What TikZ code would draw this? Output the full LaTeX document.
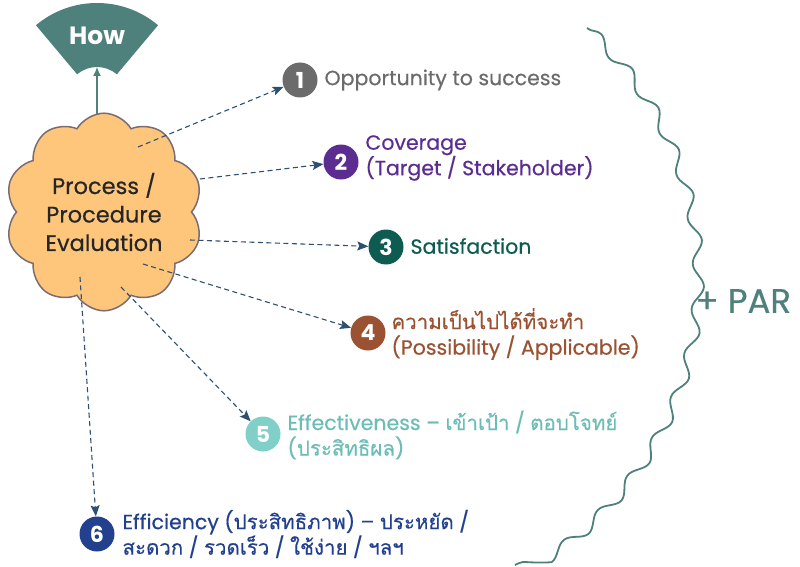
\documentclass[tikz,border=0pt]{standalone}
\usepackage{fontspec}
\setmainfont{Poppins}
\newfontfamily\medfont{Poppins}[FakeBold=0.5]
\newfontfamily\thai[Script=Thai,Scale=1.0,FakeBold=0.4]{Loma}
\usetikzlibrary{shapes.symbols,decorations.pathmorphing,arrows.meta}
\definecolor{tealc}{HTML}{4E807C}
\definecolor{arrc}{HTML}{2D4F70}
\definecolor{cloudfill}{HTML}{FDC67B}
\definecolor{cloudline}{HTML}{7B6B72}
\definecolor{cone}{HTML}{6B6B6B}
\definecolor{ctwo}{HTML}{5C2D91}
\definecolor{cthree}{HTML}{0E5B52}
\definecolor{cfour}{HTML}{9B5232}
\definecolor{cfive}{HTML}{80CFC9}
\definecolor{tfive}{HTML}{6DBDB7}
\definecolor{csix}{HTML}{23408E}
\tikzset{
  numc/.style={circle, minimum size=35pt, inner sep=0pt, fill=#1,
    font=\bfseries\fontsize{22}{22}\selectfont, text=white},
  lbl/.style={anchor=west, align=left, text=#1, font=\medfont\fontsize{20.5}{25.5}\selectfont},
  darr/.style={draw=arrc, dash pattern=on 5pt off 3.5pt, line width=1.1pt,
    -{Stealth[length=11pt,width=9pt,inset=2pt]}}
}
\begin{document}
\begin{tikzpicture}[x=1pt,y=-1pt]
\useasboundingbox (0,0) rectangle (800,567);
% How fan
\fill[tealc] (97,98) ++(-130:95) arc[start angle=-130,end angle=-50,radius=95]
  -- ([shift={(-50:31)}]97,98) arc[start angle=-50,end angle=-130,radius=31] -- cycle;
\node[text=white, font=\bfseries\fontsize{25}{25}\selectfont] (how) at (97,36) {How};
\coordinate (howbot) at (97,67);
\coordinate (howbase) at (97,130);
\draw[tealc, line width=1.3pt, -{Latex[length=9pt,width=8pt]}] (howbase) -- (howbot);
% cloud
\node[cloud, cloud puffs=10, cloud puff arc=120, draw=cloudline, fill=cloudfill, line width=1.5pt,
  minimum width=194pt, minimum height=138pt, align=center, text=black!85,
  font=\medfont\fontsize{22.5}{28.5}\selectfont] (cloud) at (104,212) {Process /\\Procedure\\Evaluation};
% circles
\node[numc=cone] (c1) at (300,80) {1};
\node[numc=ctwo] (c2) at (341,162) {2};
\node[numc=cthree] (c3) at (386,247) {3};
\node[numc=cfour] (c4) at (368,333) {4};
\node[numc=cfive] (c5) at (263,434) {5};
\node[numc=csix] (c6) at (97,534) {6};
% labels
\node[lbl=cone] (t1) at (321,80) {Opportunity to success};
\node[lbl=ctwo] (t2) at (362,158) {Coverage\\(Target / Stakeholder)};
\node[lbl=cthree] (t3) at (407,246) {Satisfaction};
\node[lbl=cfour] (t4) at (388,334) {{\thai ความเป็นไปได้ที่จะทำ}\\(Possibility / Applicable)};
\node[lbl=tfive] (t5) at (284,435) {Effectiveness – {\thai เข้าเป้า} / {\thai ตอบโจทย์}\\({\thai ประสิทธิผล})};
\node[lbl=csix] (t6) at (119,534) {Efficiency ({\thai ประสิทธิภาพ}) – {\thai ประหยัด} /\\{\thai สะดวก} / {\thai รวดเร็ว} / {\thai ใช้ง่าย} / {\thai ฯลฯ}};
% dashed arrows
\coordinate (s1) at (138,147);
\coordinate (s2) at (200,179);
\coordinate (s3) at (190,240);
\coordinate (s4) at (143,264);
\coordinate (s5) at (121,287);
\coordinate (s6) at (80,277);
\draw[darr] (s1) -- (c1);
\draw[darr] (s2) -- (c2);
\draw[darr] (s3) -- (c3);
\draw[darr] (s4) -- (c4);
\draw[darr] (s5) -- (c5);
\draw[darr] (s6) -- (c6);
% wavy boundary
\draw[tealc, line width=1.8pt, decorate, decoration={snake, amplitude=5.5pt, segment length=46pt}]
  (587,28) arc[start angle=-46.2, end angle=61.5, radius=335.5];
\node[anchor=west, text=tealc, font=\medfont\fontsize{34}{34}\selectfont] (par) at (692,301) {+ PAR};
\end{tikzpicture}
\end{document}
